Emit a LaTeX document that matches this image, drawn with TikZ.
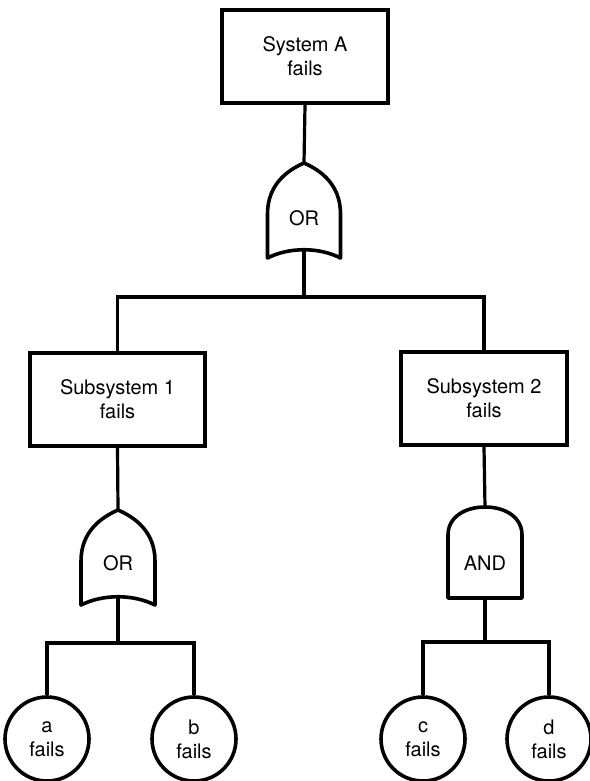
\documentclass[tikz,border=0pt]{standalone}
\usepackage{fontspec}
\setmainfont{TeX Gyre Heros}
\begin{document}
\begin{tikzpicture}[x=1pt,y=-1pt,
  every node/.style={font=\fontsize{20}{24}\selectfont, align=center},
  event/.style={draw, line width=3.8pt, minimum width=166pt, minimum height=93pt, inner sep=0pt},
  basic/.style={draw, circle, line width=3.6pt, minimum size=84pt, inner sep=0pt},
  gate/.style={line width=3.6pt, line join=round},
  wire/.style={line width=3.2pt}]
\useasboundingbox (0,0) rectangle (589,781);

% --- events ---
\node[event] (top) at (305,56.5) {System A\\fails};
\node[event, minimum width=175pt] (sub1) at (117.5,399.5) {Subsystem 1\\fails};
\node[event] (sub2) at (484,398.5) {Subsystem 2\\fails};

% --- basic events ---
\node[basic] (a) at (47,739) {a\\fails};
\node[basic] (b) at (194,739) {b\\fails};
\node[basic] (c) at (423,739) {c\\fails};
\node[basic] (d) at (549,739) {d\\fails};

% --- OR gate under System A (tip at y=163) ---
\coordinate (g1top) at (304,163);
\coordinate (g1bot) at (304,250);
\draw[gate] (304,163) .. controls (288,170) and (267.5,184) .. (267.5,214)
  -- (267.5,258) .. controls (289,247) and (319,247) .. (340.5,258)
  -- (340.5,214) .. controls (340.5,184) and (320,170) .. cycle;
\node (g1) at (304,218) {OR};

% --- OR gate under Subsystem 1 (tip at y=510) ---
\coordinate (g2top) at (118,510);
\coordinate (g2bot) at (118,597);
\draw[gate] (118,510) .. controls (102,517) and (81,531) .. (81,561)
  -- (81,605) .. controls (103,594) and (133,594) .. (155,605)
  -- (155,561) .. controls (155,531) and (134,517) .. cycle;
\node (g2) at (118,563) {OR};

% --- AND gate under Subsystem 2 ---
\coordinate (g3top) at (485,507);
\coordinate (g3bot) at (485,598);
\draw[gate] (448,598) -- (448,535) .. controls (448,517) and (465,507) .. (485,507)
  .. controls (505,507) and (522,517) .. (522,535) -- (522,598) -- cycle;
\node (g3) at (485,563) {AND};

% --- connectors ---
\coordinate (j1) at (304,297);
\coordinate (j2) at (118,643);
\coordinate (j3) at (485,642);
\draw[wire] (top.south) -- (g1top);
\draw[wire] (g1bot) -- (j1);
\draw[wire] (sub1.north) |- (j1) -| (sub2.north);
\draw[wire] (sub1.south) -- (g2top);
\draw[wire] (sub2.south) -- (g3top);
\draw[wire] (g2bot) -- (j2);
\draw[wire] (g3bot) -- (j3);
\draw[wire] (a.north) |- (j2) -| (b.north);
\draw[wire] (c.north) |- (j3) -| (d.north);
\end{tikzpicture}
\end{document}
